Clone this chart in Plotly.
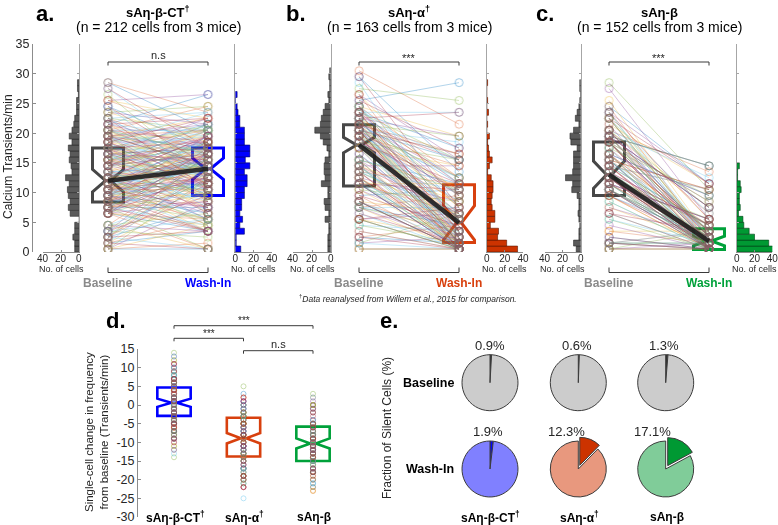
import numpy as np
import plotly.graph_objects as go

W, H = 778, 525
FONT = "Arial, 'Liberation Sans', Helvetica, sans-serif"

# ---------------- data ----------------
groups = ["sAη-β-CT<sup>†</sup>", "sAη-α<sup>†</sup>", "sAη-β"]
panel_letters = ["a.", "b.", "c."]
n_cells = [212, 163, 152]
sig_baseline_vs_washin = ["n.s", "***", "***"]
hist_ticks = [0, 20, 40]

# histogram counts per 1 transient/min bin (bin 0 = [0,1), bin 1 = [1,2), ...)
base_counts_a = [5, 5, 7, 5, 5, 0, 10, 12, 10, 12, 13, 11, 15, 8, 9, 11, 10, 12, 8, 11, 8, 6, 5, 3, 3, 3, 1, 2, 2]
wash_counts_a = [6, 1, 1, 10, 5, 8, 5, 7, 7, 10, 10, 13, 13, 10, 16, 11, 16, 16, 10, 10, 10, 5, 5, 3, 2, 0, 2]
base_counts_b = [3, 3, 3, 2, 2, 6, 2, 6, 7, 3, 3, 10, 6, 7, 7, 6, 2, 4, 8, 11, 17, 11, 10, 8, 6, 2, 3, 1, 1, 2, 1]
wash_counts_b = [34, 22, 12, 13, 4, 9, 9, 6, 5, 6, 7, 7, 5, 1, 3, 6, 3, 2, 1, 3, 0, 1, 0, 2, 0, 1, 0, 0, 1]
base_counts_c = [5, 8, 2, 2, 1, 2, 3, 2, 2, 4, 10, 9, 17, 9, 8, 8, 8, 4, 11, 12, 8, 2, 6, 4, 2, 1, 0, 1, 1]
wash_counts_c = [41, 36, 20, 14, 8, 7, 2, 4, 3, 3, 5, 4, 1, 1, 3]
base_counts = [base_counts_a, base_counts_b, base_counts_c]
wash_counts = [wash_counts_a, wash_counts_b, wash_counts_c]

# notched box statistics (Calcium transients/min)
base_q1 = [8.4, 11.1, 9.5]
base_med = [12.0, 18.0, 13.0]
base_q3 = [17.5, 21.4, 18.5]
base_notch = [1.9, 1.3, 2.3]
wash_q1 = [9.5, 1.6, 0.4]
wash_med = [14.0, 4.9, 1.85]
wash_q3 = [17.5, 11.3, 3.9]
wash_notch = [1.8, 2.9, 0.8]

# panel d: change from baseline
change_q1 = [-2.9, -13.8, -15.0]
change_med = [0.6, -8.9, -10.3]
change_q3 = [4.7, -3.4, -5.8]
change_notch = [1.1, 1.4, 1.35]
sig_change = [("***", 0, 2), ("***", 0, 1), ("n.s", 1, 2)]

# panel e: fraction of silent cells (%)
silent_baseline = [0.9, 0.6, 1.3]
silent_washin = [1.9, 12.3, 17.1]

# ---------------- styles ----------------
PAL = ["#0072BD", "#D95319", "#EDB120", "#7E2F8E", "#77AC30", "#4DBEEE", "#A2142F"]
base_box_col = "#474747"
base_bar_col = "#5a5a5a"
base_lab_col = "#8a8a8a"
wash_box_col = ["#0000ff", "#d8400e", "#00a13a"]
wash_bar_col = ["#0000ff", "#cc3300", "#009933"]
wash_bar_line = ["#00006e", "#5c1700", "#004018"]
pie_dark = ["#0000ff", "#cc3300", "#009933"]
pie_light = ["#8080ff", "#e8987e", "#80cc99"]
AXCOL = "#8c8c8c"
TXT = "#262626"


def xn(i): return "x" if i == 1 else f"x{i}"
def yn(i): return "y" if i == 1 else f"y{i}"
def xk(i): return "xaxis" if i == 1 else f"xaxis{i}"
def yk(i): return "yaxis" if i == 1 else f"yaxis{i}"
def PX(x): return x / W
def PY(y): return 1 - y / H


def expand(counts):
    return np.repeat(np.arange(len(counts)) + 0.5, counts)


def pair(base_vals, wash_vals, mix):
    # deterministic partial shuffle of ranks -> moderately correlated pairing
    n = len(base_vals)
    i = np.arange(n)
    key = i + mix * ((i * 37) % n)
    order = np.argsort(key, kind="stable")
    out = np.empty(n)
    out[order] = np.sort(wash_vals)
    return out


fig = go.Figure()
layout = {}
shapes = []
annots = []


def ann(text, x, y, size, color=TXT, angle=0, xanchor="center", yanchor="middle"):
    annots.append(dict(text=text, x=PX(x), y=PY(y), xref="paper", yref="paper",
                       showarrow=False, textangle=angle, xanchor=xanchor, yanchor=yanchor,
                       font=dict(size=size, color=color, family=FONT)))


def bracket(xref, x0, x1, ypx, tick):
    c = dict(color="#3a3a3a", width=1)
    shapes.append(dict(type="line", xref=xref, yref="paper", x0=x0, x1=x1, y0=PY(ypx), y1=PY(ypx), line=c))
    shapes.append(dict(type="line", xref=xref, yref="paper", x0=x0, x1=x0, y0=PY(ypx), y1=PY(ypx + tick), line=c))
    shapes.append(dict(type="line", xref=xref, yref="paper", x0=x1, x1=x1, y0=PY(ypx), y1=PY(ypx + tick), line=c))


# ---------------- panels a-c ----------------
lh_dom = [[42.7, 79.3], [293.3, 330.7], [545.0, 580.7]]
rh_dom = [[235.3, 271.7], [486.7, 523.0], [736.7, 772.3]]
base_px = [108, 359, 609]
Y_TOP, Y_BOT = 44, 252
ydom = [PY(Y_BOT), PY(Y_TOP)]
changes = []

for p in range(3):
    al, am, ar = 3 * p + 1, 3 * p + 2, 3 * p + 3
    base = expand(base_counts[p])
    wash = pair(base, expand(wash_counts[p]), 1.6)
    changes.append(wash - base)
    n = len(base)
    bins = np.arange(35) + 0.5

    # paired lines
    for ci, c in enumerate(PAL):
        idx = np.arange(ci, n, 7)
        xs, ys = [], []
        for i in idx:
            xs += [1, 2, None]
            ys += [base[i], wash[i], None]
        fig.add_trace(go.Scatter(x=xs, y=ys, mode="lines", xaxis=xn(am), yaxis=yn(am),
                                 line=dict(color=c, width=0.6), opacity=0.5, hoverinfo="skip"))
    for ci, c in enumerate(PAL):
        idx = np.arange(ci, n, 7)
        fig.add_trace(go.Scatter(x=[1] * len(idx) + [2] * len(idx),
                                 y=list(base[idx]) + list(wash[idx]), mode="markers",
                                 xaxis=xn(am), yaxis=yn(am), opacity=0.5, hoverinfo="skip",
                                 marker=dict(symbol="circle-open", size=8, color=c, line=dict(width=0.8))))
    # boxes
    fig.add_trace(go.Box(x=[1], q1=[base_q1[p]], median=[base_med[p]], q3=[base_q3[p]],
                         lowerfence=[base_q1[p]], upperfence=[base_q3[p]], notched=True,
                         notchspan=[base_notch[p]], notchwidth=0.42, width=0.31, whiskerwidth=0,
                         boxpoints=False, line=dict(color=base_box_col, width=3),
                         fillcolor="rgba(0,0,0,0)", xaxis=xn(am), yaxis=yn(am), hoverinfo="skip"))
    fig.add_trace(go.Box(x=[2], q1=[wash_q1[p]], median=[wash_med[p]], q3=[wash_q3[p]],
                         lowerfence=[wash_q1[p]], upperfence=[wash_q3[p]], notched=True,
                         notchspan=[wash_notch[p]], notchwidth=0.42, width=0.31, whiskerwidth=0,
                         boxpoints=False, line=dict(color=wash_box_col[p], width=3),
                         fillcolor="rgba(0,0,0,0)", xaxis=xn(am), yaxis=yn(am), hoverinfo="skip"))
    fig.add_trace(go.Scatter(x=[1, 2], y=[base_med[p], wash_med[p]], mode="lines",
                             line=dict(color="#1e1e1e", width=4.5), opacity=0.9,
                             xaxis=xn(am), yaxis=yn(am), hoverinfo="skip"))
    # histograms
    bc = base_counts[p]
    wc = wash_counts[p]
    fig.add_trace(go.Bar(y=bins[:len(bc)], x=bc, orientation="h", width=1,
                         marker=dict(color=base_bar_col, line=dict(color="#2a2a2a", width=0.6)),
                         xaxis=xn(al), yaxis=yn(al), hoverinfo="skip"))
    fig.add_trace(go.Bar(y=bins[:len(wc)], x=wc, orientation="h", width=1,
                         marker=dict(color=wash_bar_col[p], line=dict(color=wash_bar_line[p], width=0.6)),
                         xaxis=xn(ar), yaxis=yn(ar), hoverinfo="skip"))

    # axes
    hx = dict(showgrid=False, zeroline=False, showline=True, linecolor=AXCOL, linewidth=1,
              tickvals=hist_ticks, ticks="inside", ticklen=2, tickcolor=AXCOL, automargin=False,
              ticklabelstandoff=-3, ticklabeloverflow="allow",
              tickfont=dict(size=10, color=TXT, family=FONT))
    hy = dict(showgrid=False, zeroline=False, showline=True, linecolor="#a6a6a6", linewidth=1,
              range=[0, 35], domain=ydom, ticks="inside", ticklen=2, tickcolor="#a6a6a6",
              tickvals=list(range(0, 36, 5)), showticklabels=False, automargin=False)
    layout[xk(al)] = dict(hx, domain=[PX(lh_dom[p][0]), PX(lh_dom[p][1])], range=[40, 0],
                          anchor=yn(al), showticklabels=False)
    layout[yk(al)] = dict(hy, anchor=xn(al), side="right")
    layout[xk(ar)] = dict(hx, domain=[PX(rh_dom[p][0]), PX(rh_dom[p][1])], range=[-0.001, 40.001],
                          anchor=yn(ar))
    layout[yk(ar)] = dict(hy, anchor=xn(ar), side="left")
    # tick labels of the reversed (left) histogram axis
    for v in hist_ticks:
        xpx = lh_dom[p][1] - v / 40.0 * (lh_dom[p][1] - lh_dom[p][0])
        ann(str(v), xpx, 258.5, 10)
    m0, m1 = lh_dom[p][1] + 3, rh_dom[p][0] - 3
    layout[xk(am)] = dict(domain=[PX(m0), PX(m1)], visible=False, anchor=yn(am), automargin=False,
                          range=[1 - (base_px[p] - m0) / 100.0, 1 + (m1 - base_px[p]) / 100.0])
    if p == 0:
        layout[yk(am)] = dict(domain=ydom, range=[0, 35], anchor="free", position=PX(32),
                              showgrid=False, zeroline=False, showline=True, linecolor=AXCOL,
                              ticks="inside", ticklen=3, tickcolor=AXCOL, tickvals=list(range(0, 36, 5)),
                              automargin=False, tickfont=dict(size=12.5, color=TXT, family=FONT))
    else:
        layout[yk(am)] = dict(domain=ydom, range=[0, 35], anchor=xn(am), visible=False, automargin=False)

    # text
    cx = base_px[p] + 50
    ann(f"<b>{panel_letters[p]}</b>", [45, 296, 545][p], 13, 22, color="#000")
    ann(f"<b>{groups[p]}</b>", cx, 12, 13, color="#000")
    ann(f"(n = {n_cells[p]} cells from 3 mice)", cx, 27, 14, color="#000")
    bracket(xn(am), 1, 2, 62, 3.5)
    ann(sig_baseline_vs_washin[p], cx, 55 if sig_baseline_vs_washin[p] == "n.s" else 58, 11)
    bracket(xn(am), 1, 2, 272.5, -5)
    ann("<b>Baseline</b>", base_px[p], 283, 12, color=base_lab_col)
    ann("<b>Wash-In</b>", base_px[p] + 100, 283, 12, color=wash_box_col[p])
    for d in (lh_dom[p], rh_dom[p]):
        ann("No. of cells", (d[0] + d[1]) / 2, 269, 9)

ann("Calcium Transients/min", 8, 157, 12, angle=-90)
ann("<sup>†</sup><i>Data reanalysed from Willem et al., 2015 for comparison.</i>", 408, 298, 8.5)

# ---------------- panel d ----------------
AD = 10
d_x = [174, 243.5, 313]
d_step = 69.5
d0, d1 = 138, 352
dticks = list(range(-30, 16, 5))
layout[xk(AD)] = dict(domain=[PX(d0), PX(d1)], visible=False, anchor=yn(AD), automargin=False,
                      range=[1 - (d_x[0] - d0) / d_step, 3 + (d1 - d_x[2]) / d_step])
layout[yk(AD)] = dict(domain=[PY(517), PY(349)], range=[-30.001, 15.001], anchor=xn(AD),
                      showgrid=False, zeroline=False, showline=True, linecolor=AXCOL,
                      ticks="inside", ticklen=3, tickcolor=AXCOL, tickvals=dticks,
                      ticktext=[str(v) for v in dticks], automargin=False, ticklabeloverflow="allow",
                      tickfont=dict(size=12.5, color=TXT, family=FONT))
for g in range(3):
    ch = changes[g]
    n = len(ch)
    for ci, c in enumerate(PAL):
        idx = np.arange(ci, n, 7)
        fig.add_trace(go.Scatter(x=[g + 1] * len(idx), y=ch[idx], mode="markers", opacity=0.55,
                                 xaxis=xn(AD), yaxis=yn(AD), hoverinfo="skip",
                                 marker=dict(symbol="circle-open", size=5, color=c, line=dict(width=0.7))))
for g in range(3):
    fig.add_trace(go.Box(x=[g + 1], q1=[change_q1[g]], median=[change_med[g]], q3=[change_q3[g]],
                         lowerfence=[change_q1[g]], upperfence=[change_q3[g]], notched=True,
                         notchspan=[change_notch[g]], notchwidth=0.42, width=0.48, whiskerwidth=0,
                         boxpoints=False, line=dict(color=wash_box_col[g], width=2.6),
                         fillcolor="rgba(0,0,0,0)", xaxis=xn(AD), yaxis=yn(AD), hoverinfo="skip"))
    ann(f"<b>{groups[g]}</b>", d_x[g] + 1, 517, 12, color="#000")
br_y = [325.7, 338.3, 350.7]
for k, (lab, g0, g1) in enumerate(sig_change):
    bracket(xn(AD), g0 + 1, g1 + 1, br_y[k], 3)
    ann(lab, (d_x[g0] + d_x[g1]) / 2, br_y[k] - (5 if lab == "***" else 7), 10 if lab == "***" else 11)
ann("<b>d.</b>", 116, 320, 22, color="#000")
ann("Single-cell change in frequency<br>from baseline (Transients/min)", 96, 432, 11.5, angle=-90)

# ---------------- panel e ----------------
pie_cx = [490, 578.3, 665.7]
pie_cy = [382.7, 469]
R = 28
for row, vals in enumerate([silent_baseline, silent_washin]):
    for g in range(3):
        s = vals[g]
        pull = 0.0 if (row == 0 or s < 5) else 0.14
        hs = R * (1 + pull)
        cx, cy = pie_cx[g], pie_cy[row]
        if row == 0:
            cols = ["#303030", "#cccccc"]
        else:
            cols = [pie_dark[g], pie_light[g]]
        fig.add_trace(go.Pie(values=[s, 100 - s], sort=False, direction="counterclockwise", rotation=0,
                             pull=[pull, 0], textinfo="none", hoverinfo="skip", showlegend=False,
                             marker=dict(colors=cols, line=dict(color="#3c3c3c", width=1)),
                             domain=dict(x=[PX(cx - hs), PX(cx + hs)], y=[PY(cy + hs), PY(cy - hs)])))
lab_x = [[490, 577, 664], [488, 566.7, 652]]
lab_y = [345, 431.7]
for row, vals in enumerate([silent_baseline, silent_washin]):
    for g in range(3):
        ann(f"{vals[g]}%", lab_x[row][g], lab_y[row], 13)
ann("<b>Baseline</b>", 428, 382.5, 12.5, color="#000")
ann("<b>Wash-In</b>", 430, 469, 12.5, color="#000")
for g in range(3):
    ann(f"<b>{groups[g]}</b>", [490, 579, 667][g], 517, 12, color="#000")
ann("<b>e.</b>", 389, 320, 22, color="#000")
ann("Fraction of Silent Cells (%)", 387, 428, 12, angle=-90)

fig.update_layout(**layout)
fig.update_layout(width=W, height=H, autosize=False, margin=dict(l=0, r=0, t=0, b=0, autoexpand=False),
                  paper_bgcolor="white", plot_bgcolor="rgba(0,0,0,0)", showlegend=False,
                  hovermode=False, shapes=shapes, annotations=annots, font=dict(family=FONT, color=TXT))
fig.write_html("out.html", config={"displayModeBar": False, "staticPlot": True},
               post_script="document.body.style.margin='0px';document.body.style.overflow='hidden';")
